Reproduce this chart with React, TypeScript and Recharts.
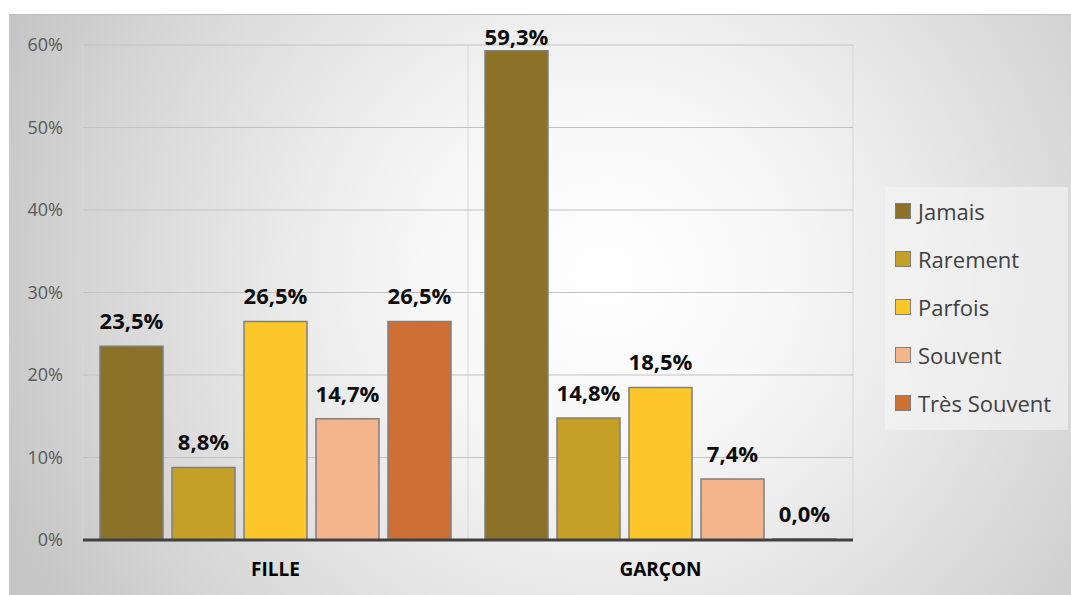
import React from "react";
import { BarChart, Bar, XAxis, YAxis, CartesianGrid, LabelList } from "recharts";

const categories = ["FILLE", "GARÇON"];
const seriesNames = ["Jamais", "Rarement", "Parfois", "Souvent", "Très Souvent"];
const jamais = [23.5, 59.3];
const rarement = [8.8, 14.8];
const parfois = [26.5, 18.5];
const souvent = [14.7, 7.4];
const tresSouvent = [26.5, 0.0];
const yTicks = [0, 10, 20, 30, 40, 50, 60];
const colors = ["#8B7228", "#C4A027", "#FDC72A", "#F4B58C", "#CE7033"];

const seriesValues = [jamais, rarement, parfois, souvent, tresSouvent];
const keys = ["s0", "s1", "s2", "s3", "s4"];

const data = categories.map((c, i) => {
  const row: any = { name: c };
  keys.forEach((k, j) => {
    row[k] = seriesValues[j][i];
  });
  return row;
});

const W = 1062;
const H = 581;
const MARGIN = { top: 30, right: 218, bottom: 15, left: 14 };
const FONT = "'Open Sans', 'DejaVu Sans', sans-serif";

const fmt = (v: number) => v.toFixed(1).replace(".", ",") + "%";

const renderLabel = (props: any) => {
  const { x, y, width, height, value } = props;
  const top = Math.min(Number(y), Number(y) + Number(height || 0));
  const ty = Math.max(top - 17, MARGIN.top);
  return (
    <text
      x={Number(x) + Number(width) / 2}
      y={ty}
      textAnchor="middle"
      fontFamily={FONT}
      fontWeight={700}
      fontSize={22}
      fill="#0d0d0d"
    >
      {fmt(Number(value))}
    </text>
  );
};

const vGen = ({ offset }: any) => [
  offset.left,
  offset.left + offset.width / 2,
  offset.left + offset.width,
];

export default function App() {
  return (
    <div
      style={{
        position: "absolute",
        left: 9,
        top: 14,
        width: W,
        height: H,
        overflow: "hidden",
        fontFamily: FONT,
        borderTop: "1px solid #bdbdbd",
        boxSizing: "border-box",
        background:
          "radial-gradient(ellipse 640px 620px at 56% 45%, #ffffff 0%, #f7f7f7 28%, #ebebeb 48%, #d4d4d4 82%, #c6c6c6 100%)",
      }}
    >
      <BarChart
        width={W}
        height={H - 1}
        data={data}
        margin={MARGIN}
        barCategoryGap={17}
        barGap={9}
      >
        <CartesianGrid horizontal={false} vertical verticalCoordinatesGenerator={vGen} stroke="#d6d6d6" />
        <CartesianGrid vertical={false} stroke="#c2c2c2" />
        {keys.map((k, j) => (
          <Bar
            key={k}
            dataKey={k}
            name={seriesNames[j]}
            fill={colors[j]}
            stroke="#7f7f7f"
            strokeWidth={1.5}
            minPointSize={1}
            isAnimationActive={false}
          >
            <LabelList dataKey={k} content={renderLabel} />
          </Bar>
        ))}
        <XAxis
          dataKey="name"
          axisLine={{ stroke: "#404040", strokeWidth: 3 }}
          tickLine={false}
          tickMargin={17}
          height={40}
          tick={{ fill: "#000000", fontSize: 19, fontWeight: 700, fontFamily: FONT }}
        />
        <YAxis
          domain={[0, 60]}
          ticks={yTicks}
          interval={0}
          width={60}
          axisLine={false}
          tickLine={false}
          tickMargin={14}
          tickFormatter={(v: number) => `${v}%`}
          tick={{ fill: "#595959", fontSize: 18, fontFamily: FONT }}
        />
      </BarChart>
      <div
        style={{
          position: "absolute",
          left: 876,
          top: 172,
          width: 183,
          height: 243,
          background: "rgba(245,245,245,0.6)",
        }}
      >
        {seriesNames.map((n, j) => (
          <div
            key={n}
            style={{
              height: 48,
              display: "flex",
              alignItems: "center",
              paddingLeft: 10,
            }}
          >
            <div
              style={{
                width: 16,
                height: 16,
                boxSizing: "border-box",
                background: colors[j],
                border: "1.5px solid #7f7f7f",
                marginRight: 7,
              }}
            />
            <span style={{ fontSize: 22, color: "#404040", lineHeight: "24px", whiteSpace: "nowrap" }}>{n}</span>
          </div>
        ))}
      </div>
    </div>
  );
}
